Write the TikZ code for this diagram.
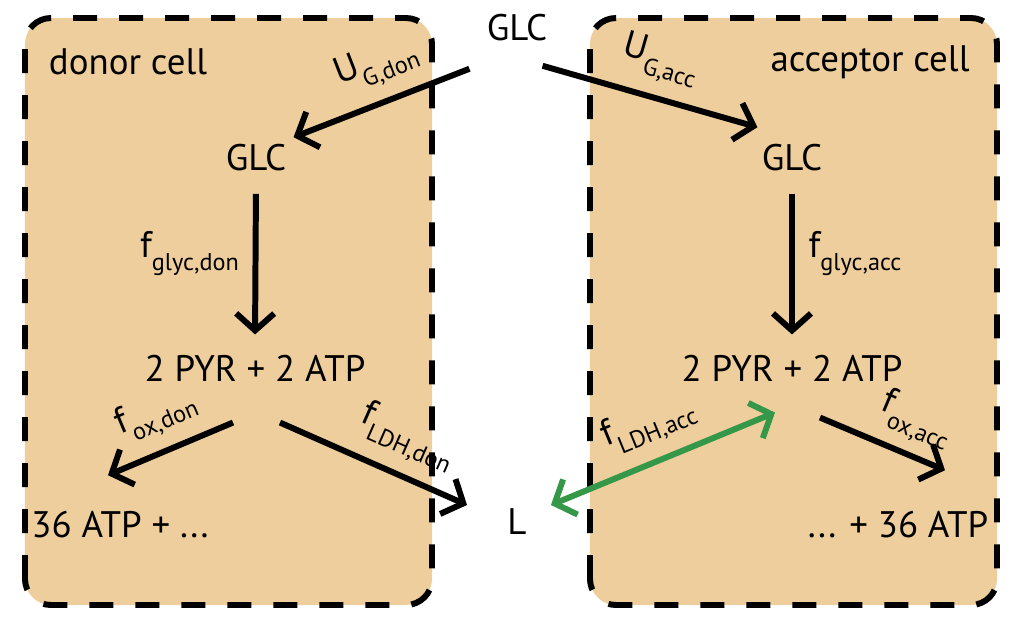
\documentclass[tikz,border=0pt]{standalone}
\usepackage{fontspec}
\setmainfont{PT Sans}
\usetikzlibrary{arrows.meta,positioning,calc}
\definecolor{CellTan}{RGB}{238,206,157}
\definecolor{LacGreen}{RGB}{52,152,72}
\newcommand{\flux}[2]{#1\raisebox{-0.7ex}{\fontsize{6.9}{8}\selectfont #2}}

\begin{document}
\begin{tikzpicture}[>={Straight Barb[length=1.7mm,width=3.8mm]},every node/.style={font=\fontsize{10.5}{12}\selectfont}]
\tikzset{cell/.style={draw=black,fill=CellTan,line width=1.7pt,dash pattern=on 2.4mm off 2.2mm,rounded corners=2.6mm},
  flow/.style={->,line width=1.7pt,black},
  lbl/.style={midway,sloped,above=2.8pt,inner sep=1pt}}
\useasboundingbox (0,0) rectangle (10.15,6.28);
% the two cells
\draw[cell] (0.25,0.23) rectangle (4.32,6.10);
\draw[cell] (5.90,0.23) rectangle (9.97,6.10);
\node (don) at (1.28,5.66) {donor cell};
\node (acc) at (8.70,5.66) {acceptor cell};
% metabolites
\node (glc) at (5.17,6.00) {GLC};
\node (glcD) at (2.56,4.70) {GLC};
\node (glcA) at (7.92,4.70) {GLC};
\node (pyrD) at (2.55,2.60) {2 PYR + 2 ATP};
\node (pyrA) at (7.92,2.60) {2 PYR + 2 ATP};
\node (atpD) at (1.20,1.03) {36 ATP + ...};
\node (atpA) at (8.98,1.03) {... + 36 ATP};
\node (lac) at (5.17,1.06) {L};
% fluxes
\draw[flow] ([xshift=-0.5mm,yshift=-1.5mm]glc.south west) -- ([xshift=-0.5mm,yshift=-0.5mm]glcD.north east) node[lbl,pos=0.45]{\flux{U}{G,don}};
\draw[flow] ([xshift=-1.7mm,yshift=-1.2mm]glc.south east) -- ([xshift=0.8mm,yshift=0.5mm]glcA.north west) node[lbl,pos=0.5]{\flux{U}{G,acc}};
\draw[flow,shorten <=1mm,shorten >=0.8mm] (glcD.south) -- (pyrD.north) node[midway,left=0.2mm,yshift=1mm]{\flux{f}{glyc,don}};
\draw[flow,shorten <=1mm,shorten >=0.8mm] (glcA.south) -- (pyrA.north) node[midway,right=0.2mm,yshift=1mm]{\flux{f}{glyc,acc}};
\draw[flow] ([xshift=-2.2mm,yshift=-2.9mm]pyrD.south) -- ([xshift=-1.2mm,yshift=2.4mm]atpD.north) node[lbl]{\flux{f}{ox,don}};
\draw[flow] ([xshift=2.5mm,yshift=-2.9mm]pyrD.south) -- ([xshift=-2.8mm,yshift=1.7mm]lac.west) node[lbl,pos=0.6]{\flux{f}{LDH,don}};
\draw[<->,line width=1.7pt,LacGreen] ([xshift=1.2mm,yshift=1.7mm]lac.east) -- ([xshift=-1.7mm,yshift=-1.9mm]pyrA.south) node[lbl,black]{\flux{f}{LDH,acc}};
\draw[flow] ([xshift=2.8mm,yshift=-2.4mm]pyrA.south) -- ([xshift=4.7mm,yshift=2.9mm]atpA.north) node[lbl,pos=0.66,above=2pt]{\flux{f}{ox,acc}};
\end{tikzpicture}
\end{document}
